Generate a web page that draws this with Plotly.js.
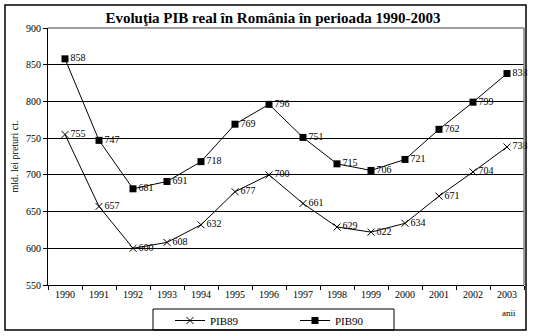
<!DOCTYPE html>
<html>
<head>
<meta charset="utf-8">
<script src="https://cdn.plot.ly/plotly-3.0.1.min.js"></script>
<style>html,body{margin:0;padding:0;background:#fff;}</style>
</head>
<body>
<div id="chart" style="width:533px;height:336px;"></div>
<script>
var years = ['1990','1991','1992','1993','1994','1995','1996','1997','1998','1999','2000','2001','2002','2003'];
var pib89 = [755, 657, 600, 608, 632, 677, 700, 661, 629, 622, 634, 671, 704, 738];
var pib90 = [858, 747, 681, 691, 718, 769, 796, 751, 715, 706, 721, 762, 799, 838];
var yTicks = [550, 600, 650, 700, 750, 800, 850, 900];

var W = 533, H = 336;
var L = 48, R = 524, T = 28, B = 285;
var pw = R - L, ph = B - T;
function px(x){ return (x - L) / pw; }
function py(y){ return (B - y) / ph; }

var serif = "'Liberation Serif', 'Times New Roman', Times, serif";

var traces = [
  {
    x: years, y: pib89, name: 'PIB89', type: 'scatter', mode: 'lines+markers+text',
    line: {color: '#000', width: 1},
    marker: {symbol: 'x-thin', size: 7, color: '#000', line: {color: '#000', width: 1}},
    text: pib89.map(String), textposition: 'middle right',
    textfont: {family: serif, size: 10, color: '#000'},
    cliponaxis: false
  },
  {
    x: years, y: pib90, name: 'PIB90', type: 'scatter', mode: 'lines+markers+text',
    line: {color: '#000', width: 1},
    marker: {symbol: 'square', size: 7, color: '#000'},
    text: pib90.map(String), textposition: 'middle right',
    textfont: {family: serif, size: 10, color: '#000'},
    cliponaxis: false
  }
];

var layout = {
  width: W, height: H,
  margin: {l: L, r: W - R, t: T, b: H - B, pad: 0, autoexpand: false},
  paper_bgcolor: '#fff', plot_bgcolor: '#fff',
  font: {family: serif, size: 10, color: '#000'},
  title: {
    text: '<b>Evoluţia PIB real în România în perioada 1990-2003</b>',
    font: {family: serif, size: 15, color: '#000'},
    x: 273 / W, xref: 'container', xanchor: 'center',
    y: 1 - 18 / H, yref: 'container', yanchor: 'middle'
  },
  xaxis: {
    type: 'category', tickson: 'boundaries', ticks: 'outside', ticklen: 4, tickcolor: '#000',
    showline: true, linecolor: '#000', linewidth: 1, showgrid: false, automargin: false,
    tickfont: {family: serif, size: 10, color: '#000'},
    range: [-0.5, 13.5], fixedrange: true
  },
  yaxis: {
    range: [550, 900], tickvals: yTicks, ticks: 'outside', ticklen: 4, tickcolor: '#000',
    showline: true, linecolor: '#000', linewidth: 1, automargin: false,
    showgrid: true, gridcolor: '#000', gridwidth: 1, zeroline: false,
    tickfont: {family: serif, size: 10, color: '#000'}
  },
  showlegend: true,
  legend: {
    orientation: 'h', xref: 'container', yref: 'container',
    x: 170 / W, xanchor: 'left', y: 1 - 306 / H, yanchor: 'top',
    borderwidth: 0, bgcolor: 'rgba(0,0,0,0)',
    font: {family: serif, size: 11, color: '#000'},
    entrywidth: 80, entrywidthmode: 'pixels',
    itemwidth: 30, tracegroupgap: 0
  },
  shapes: [
    {type: 'rect', xref: 'paper', yref: 'paper', x0: px(5), x1: px(526), y0: py(330), y1: py(5),
     line: {color: '#000', width: 1.5}, fillcolor: 'rgba(0,0,0,0)', layer: 'below'},
    {type: 'rect', xref: 'paper', yref: 'paper', x0: px(153), x1: px(394), y0: py(330), y1: py(309),
     line: {color: '#000', width: 1}, fillcolor: 'rgba(0,0,0,0)', layer: 'below'},
    {type: 'line', xref: 'paper', yref: 'paper', x0: 0, x1: 1, y0: 1, y1: 1,
     line: {color: '#808080', width: 1.5}, layer: 'above'},
    {type: 'line', xref: 'paper', yref: 'paper', x0: 1, x1: 1, y0: 0, y1: 1,
     line: {color: '#808080', width: 1.5}, layer: 'above'}
  ],
  annotations: [
    {text: 'mld. lei preturi ct.', xref: 'paper', yref: 'paper', x: px(14), y: 0.5, textangle: -90,
     xanchor: 'center', yanchor: 'middle', showarrow: false, font: {family: serif, size: 10, color: '#000'}},
    {text: 'anii', xref: 'paper', yref: 'paper', x: px(509), y: py(313), xanchor: 'center', yanchor: 'middle',
     showarrow: false, font: {family: serif, size: 9, color: '#000'}}
  ]
};

Plotly.newPlot('chart', traces, layout, {displayModeBar: false, staticPlot: true});
</script>
</body>
</html>
